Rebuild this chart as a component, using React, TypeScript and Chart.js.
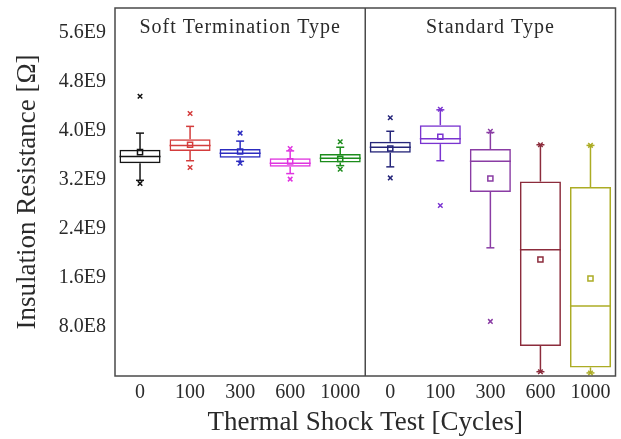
import React, { useEffect, useRef } from 'react';
import { Chart, registerables } from 'chart.js';

Chart.register(...registerables);

// ---- data ----
const categories = ['0', '100', '300', '600', '1000', '0', '100', '300', '600', '1000'];
const groupTitles = ['Soft Termination Type', 'Standard Type'];
const xTitle = 'Thermal Shock Test [Cycles]';
const yTitle = 'Insulation Resistance [Ω]';
const boxColors = [
  '#151515', '#d43c3c', '#2c2cc0', '#e034e0', '#1c8c1c',
  '#26267a', '#7a34d0', '#8a3ca4', '#8c2c3c', '#acac24',
];
const q1 = [3.47e9, 3.67e9, 3.56e9, 3.41e9, 3.48e9, 3.64e9, 3.78e9, 3.0e9, 0.49e9, 0.14e9];
const q3 = [3.69e9, 3.86e9, 3.70e9, 3.55e9, 3.62e9, 3.82e9, 4.09e9, 3.70e9, 3.17e9, 3.08e9];
const median = [3.58e9, 3.76e9, 3.63e9, 3.47e9, 3.55e9, 3.73e9, 3.87e9, 3.50e9, 2.06e9, 1.14e9];
const mean = [3.65e9, 3.77e9, 3.66e9, 3.50e9, 3.54e9, 3.71e9, 3.90e9, 3.22e9, 1.90e9, 1.59e9];
const whiskerLow = [3.19e9, 3.51e9, 3.50e9, 3.30e9, 3.43e9, 3.41e9, 3.51e9, 2.09e9, 0.07e9, 0.05e9];
const whiskerHigh = [3.96e9, 4.07e9, 3.83e9, 3.67e9, 3.73e9, 3.99e9, 4.34e9, 3.97e9, 3.77e9, 3.76e9];
const markerHigh = [4.56e9, 4.28e9, 3.96e9, 3.71e9, 3.82e9, 4.21e9, 4.35e9, 3.99e9, 3.77e9, 3.76e9];
const markerLow = [3.14e9, 3.40e9, 3.47e9, 3.21e9, 3.37e9, 3.23e9, 2.78e9, 0.89e9, 0.07e9, 0.05e9];
const yTickValues = [0.8e9, 1.6e9, 2.4e9, 3.2e9, 4.0e9, 4.8e9, 5.6e9];
const yMin = 0;
const yMax = 6.0e9;

const FONT = "'Liberation Serif', 'Times New Roman', serif";

function formatSci(v: number): string {
  const e = Math.floor(Math.log10(v) + 1e-9);
  const m = v / Math.pow(10, e);
  return m.toFixed(1) + 'E' + e;
}

const boxPlugin = {
  id: 'boxExtras',
  afterDatasetsDraw(chart: any) {
    const ctx = chart.ctx;
    const ys = chart.scales.y;
    const xs = chart.scales.x;
    const meta = chart.getDatasetMeta(0);
    const line = (x1: number, y1: number, x2: number, y2: number) => {
      ctx.beginPath();
      ctx.moveTo(x1, y1);
      ctx.lineTo(x2, y2);
      ctx.stroke();
    };
    ctx.save();
    meta.data.forEach((bar: any, i: number) => {
      const cx = bar.x;
      const w = bar.width;
      ctx.strokeStyle = boxColors[i];
      ctx.lineWidth = 1.5;
      const ym = ys.getPixelForValue(median[i]);
      line(cx - w / 2, ym, cx + w / 2, ym);
      const yq3 = ys.getPixelForValue(q3[i]);
      const yq1 = ys.getPixelForValue(q1[i]);
      const yhi = ys.getPixelForValue(whiskerHigh[i]);
      const ylo = ys.getPixelForValue(whiskerLow[i]);
      line(cx, yq3, cx, yhi);
      line(cx - 4, yhi, cx + 4, yhi);
      line(cx, yq1, cx, ylo);
      line(cx - 4, ylo, cx + 4, ylo);
    });
    const a = chart.chartArea;
    ctx.strokeStyle = '#4a4a4a';
    ctx.lineWidth = 1.5;
    ctx.strokeRect(a.left, a.top, a.right - a.left, a.bottom - a.top);
    const xd = (xs.getPixelForValue(4) + xs.getPixelForValue(5)) / 2;
    line(xd, a.top, xd, a.bottom);
    ctx.fillStyle = '#2a2a2a';
    ctx.font = '20px ' + FONT;
    ctx.textAlign = 'center';
    ctx.textBaseline = 'middle';
    try { (ctx as any).letterSpacing = '1px'; } catch (e) {}
    ctx.fillText(groupTitles[0], (a.left + xd) / 2, a.top + 20);
    ctx.fillText(groupTitles[1], (xd + a.right) / 2, a.top + 20);
    ctx.restore();
  },
};

export default function App() {
  const ref = useRef<HTMLCanvasElement | null>(null);
  useEffect(() => {
    if (!ref.current) return;
    const chart = new Chart(ref.current, {
      type: 'bar',
      data: {
        labels: categories,
        datasets: [
          {
            type: 'bar',
            data: categories.map((_, i) => [q1[i], q3[i]]) as any,
            backgroundColor: 'rgba(0,0,0,0)',
            borderColor: boxColors,
            borderWidth: 1.5,
            borderSkipped: false,
            barPercentage: 0.82,
            categoryPercentage: 1.0,
          } as any,
          {
            type: 'line',
            data: mean,
            showLine: false,
            pointStyle: 'rect',
            pointRadius: 3.6,
            pointBorderWidth: 1.5,
            pointBorderColor: boxColors,
            pointBackgroundColor: 'rgba(0,0,0,0)',
          } as any,
          {
            type: 'line',
            data: markerHigh,
            showLine: false,
            pointStyle: 'crossRot',
            pointRadius: 3.2,
            pointBorderWidth: 1.5,
            pointBorderColor: boxColors,
            pointBackgroundColor: boxColors,
          } as any,
          {
            type: 'line',
            data: markerLow,
            showLine: false,
            pointStyle: 'crossRot',
            pointRadius: 3.2,
            pointBorderWidth: 1.5,
            pointBorderColor: boxColors,
            pointBackgroundColor: boxColors,
          } as any,
        ],
      },
      options: {
        animation: false,
        responsive: false,
        maintainAspectRatio: false,
        devicePixelRatio: 1,
        layout: { padding: { top: 8, right: 2, bottom: 0, left: 0 } },
        plugins: { legend: { display: false }, tooltip: { enabled: false } },
        scales: {
          x: {
            type: 'category',
            offset: true,
            grid: { display: false, drawTicks: false },
            border: { display: false },
            ticks: {
              color: '#2a2a2a',
              font: { family: FONT, size: 20 },
              padding: 5,
              maxRotation: 0,
              autoSkip: false,
            },
            title: {
              display: true,
              text: xTitle,
              color: '#2a2a2a',
              font: { family: FONT, size: 27, lineHeight: 1.2 },
              padding: { top: 0, bottom: 0 },
            },
            afterFit(scale: any) {
              scale.height = 63;
              scale.paddingLeft = 0;
              scale.paddingRight = 0;
            },
          },
          y: {
            type: 'linear',
            min: yMin,
            max: yMax,
            grid: { display: false, drawTicks: false },
            border: { display: false },
            afterBuildTicks(scale: any) {
              scale.ticks = yTickValues.map((v) => ({ value: v }));
            },
            ticks: {
              color: '#2a2a2a',
              font: { family: FONT, size: 20 },
              padding: 9,
              callback: (v: any) => formatSci(Number(v)),
            },
            title: {
              display: true,
              text: yTitle,
              color: '#2a2a2a',
              font: { family: FONT, size: 27, lineHeight: 1.2 },
              padding: { top: 12, bottom: 0 },
            },
            afterFit(scale: any) {
              scale.width = 115;
              scale.paddingTop = 0;
              scale.paddingBottom = 0;
            },
          },
        },
      } as any,
      plugins: [boxPlugin],
    });
    return () => chart.destroy();
  }, []);
  return (
    <div style={{ position: 'absolute', left: 0, top: 0, width: 621, height: 439, background: '#fff' }}>
      <canvas ref={ref} width={621} height={439} style={{ display: 'block', width: 621, height: 439 }} />
    </div>
  );
}
